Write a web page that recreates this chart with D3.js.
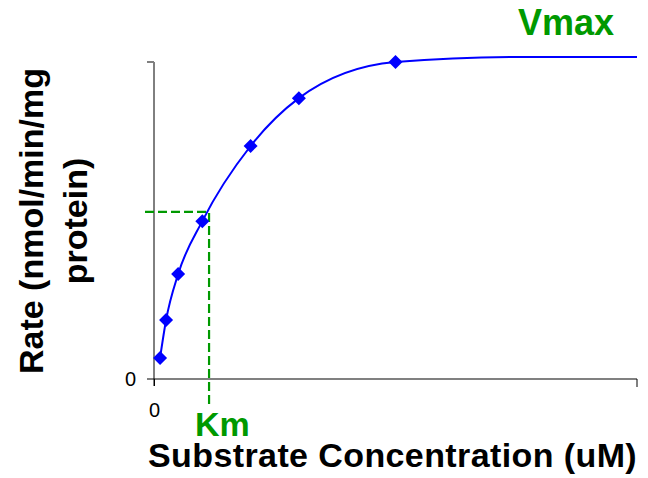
<!DOCTYPE html>
<html>
<head>
<meta charset="utf-8">
<script src="https://cdn.jsdelivr.net/npm/d3@7"></script>
<style>
  body { margin: 0; background: #fff; }
  svg { display: block; font-family: "Liberation Sans", Arial, sans-serif; }
</style>
</head>
<body>
<div id="outlet"></div>
<script>
// measured points (substrate uM, rate)
const substrate = [1.25, 2.5, 5, 10, 20, 30, 50];
const rate = [6.6, 18.6, 33.1, 49.8, 73.5, 88.6, 100];
// fitted curve drawn through the points and on to the plateau
const fitX = [1.25, 2.5, 5, 10, 20, 30, 50, 75, 100];
const fitY = [6.6, 18.6, 33.1, 49.8, 73.5, 88.6, 100, 101.6, 101.6];
const kmValue = 11.4;
const halfRate = 52.7;
const xTicks = [0];
const yTicks = [0];

const width = 648, height = 478;
const marginLeft = 154, marginRight = 11, marginTop = 62, marginBottom = 99;
const green = "#009900", blue = "#0000ff";

const xScale = d3.scaleLinear([0, 100], [marginLeft, width - marginRight]);
const yScale = d3.scaleLinear([0, 100], [height - marginBottom, marginTop]);

const svg = d3.select("#outlet")
  .append("svg")
  .attr("width", width)
  .attr("height", height)
  .attr("viewBox", [0, 0, width, height]);

// x axis
svg.append("g")
  .attr("transform", `translate(0,${yScale(0)})`)
  .call(d3.axisBottom(xScale).tickValues(xTicks).tickSize(7).tickSizeOuter(0).tickPadding(17))
  .call(g => g.select(".domain")
    .attr("d", `M${marginLeft - 7},0H${xScale(100)}`)
    .attr("stroke", "#808080").attr("stroke-width", 2))
  .call(g => g.append("line")
    .attr("x1", xScale(100)).attr("x2", xScale(100))
    .attr("y1", 0).attr("y2", 8)
    .attr("stroke", "#000"))
  .call(g => g.selectAll(".tick line").attr("stroke", "#000"))
  .call(g => g.selectAll(".tick text").attr("font-size", 20).attr("fill", "#000")
    .attr("font-family", "Liberation Sans, Arial, sans-serif"));

// y axis
svg.append("g")
  .attr("transform", `translate(${marginLeft},0)`)
  .call(d3.axisLeft(yScale).tickValues(yTicks).tickSize(0).tickPadding(18))
  .call(g => g.select(".domain")
    .attr("d", `M0,${yScale(100)}V${yScale(0) + 7}`)
    .attr("stroke", "#000"))
  .call(g => g.append("line")
    .attr("x1", -7).attr("x2", 0)
    .attr("y1", yScale(100)).attr("y2", yScale(100))
    .attr("stroke", "#808080").attr("stroke-width", 2))
  .call(g => g.selectAll(".tick text").attr("font-size", 20).attr("fill", "#000")
    .attr("font-family", "Liberation Sans, Arial, sans-serif"));

// Km / half-Vmax guides
svg.append("path")
  .attr("fill", "none")
  .attr("stroke", green)
  .attr("stroke-width", 2.2)
  .attr("stroke-dasharray", "9,4")
  .attr("d", `M${marginLeft - 9},${yScale(halfRate)}H${xScale(kmValue)}V${yScale(0) + 28}`);

// fitted line
const line = d3.line()
  .curve(d3.curveMonotoneX)
  .x((d, i) => xScale(fitX[i]))
  .y((d, i) => yScale(fitY[i]));

svg.append("path")
  .datum(fitX)
  .attr("fill", "none")
  .attr("stroke", blue)
  .attr("stroke-width", 2)
  .attr("d", line);

// diamond markers
svg.append("g")
  .attr("fill", blue)
  .selectAll("path")
  .data(d3.range(substrate.length))
  .join("path")
  .attr("transform", i => `translate(${xScale(substrate[i])},${yScale(rate[i])})`)
  .attr("d", "M0,-7L7,0L0,7L-7,0Z");

// labels
svg.append("text")
  .attr("x", 518).attr("y", 35)
  .attr("font-size", 36).attr("font-weight", "bold")
  .attr("fill", green)
  .text("Vmax");

svg.append("text")
  .attr("x", 195).attr("y", 436)
  .attr("font-size", 34).attr("font-weight", "bold")
  .attr("fill", green)
  .text("Km");

svg.append("text")
  .attr("x", 148).attr("y", 467)
  .attr("font-size", 34).attr("font-weight", "bold")
  .attr("letter-spacing", 0.4)
  .attr("fill", "#000")
  .text("Substrate Concentration (uM)");

const yLabel = svg.append("g")
  .attr("font-size", 34).attr("font-weight", "bold")
  .attr("fill", "#000")
  .attr("text-anchor", "middle");

yLabel.append("text")
  .attr("transform", "translate(43,221) rotate(-90)")
  .text("Rate (nmol/min/mg");

yLabel.append("text")
  .attr("transform", "translate(87,221) rotate(-90)")
  .text("protein)");
</script>
</body>
</html>
